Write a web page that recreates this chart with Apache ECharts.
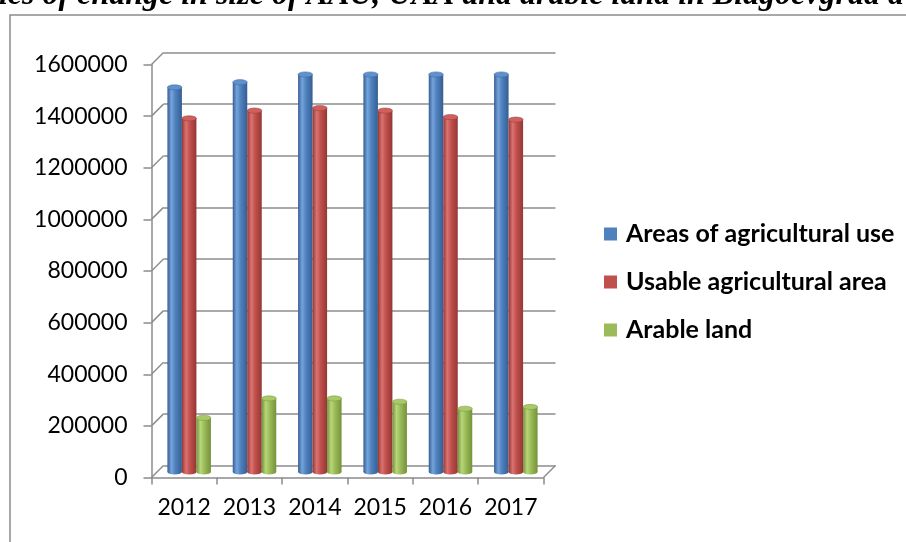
<!DOCTYPE html>
<html>
<head>
<meta charset="utf-8">
<script src="https://cdn.jsdelivr.net/npm/echarts@6/dist/echarts.min.js"></script>
<style>
  html, body { margin: 0; padding: 0; background: #fff; }
  #chart { width: 906px; height: 542px; }
</style>
</head>
<body>
<div id="chart"></div>
<script>
// Land use in Blagoevgrad district, 2012-2017
const years = ['2012', '2013', '2014', '2015', '2016', '2017'];
const seriesNames = ['Areas of agricultural use', 'Usable agricultural area', 'Arable land'];
const areasAgriUse = [1490000, 1510000, 1540000, 1540000, 1540000, 1540000];
const usableAgriArea = [1370000, 1400000, 1410000, 1400000, 1375000, 1365000];
const arableLand = [210000, 285000, 285000, 272000, 245000, 252000];
const valueTicks = [0, 200000, 400000, 600000, 800000, 1000000, 1200000, 1400000, 1600000];
const titleText = 'ics of change in size of AAU, UAA and arable land in Blagoevgrad d';

const palette = [
  { base: '#4f81bd', dark: '#355e92', light: '#75a3dc', top: '#5f91cf', edge: '#3b679c' },
  { base: '#c0504d', dark: '#943734', light: '#db7370', top: '#cf605d', edge: '#9c3e3b' },
  { base: '#9bbb59', dark: '#74923a', light: '#b8d67a', top: '#a9c868', edge: '#7c9a41' }
];

// depth offsets: front plane -> mid plane (bars) -> back wall
const GRID_LEFT = 151.5, GRID_TOP = 64.5, GRID_W = 392, GRID_H = 413;
const DEPTH_X = 12, DEPTH_Y = -12;
const MID_X = 5, MID_Y = -5.5;
const gridColor = '#8c8c8c';
const labelFont = 'Lato';

function cylinderRenderer(sIdx) {
  const c = palette[sIdx];
  return function (params, api) {
    const cat = api.value(0);
    const val = api.value(1);
    const top = api.coord([cat, val]);
    const base = api.coord([cat, 0]);
    const band = api.size([1, 0])[0];
    const w = band * 0.222;
    const cx = top[0] + (sIdx - 1) * w;
    const x0 = cx - w / 2;
    const ry = w * 0.18;
    const grad = new echarts.graphic.LinearGradient(0, 0, 1, 0, [
      { offset: 0, color: c.dark },
      { offset: 0.28, color: c.light },
      { offset: 0.55, color: c.base },
      { offset: 1, color: c.dark }
    ]);
    return {
      type: 'group',
      children: [
        {
          type: 'circle',
          x: cx, y: base[1], scaleY: ry / (w / 2),
          shape: { cx: 0, cy: 0, r: w / 2 },
          style: { fill: grad }
        },
        {
          type: 'rect',
          shape: { x: x0, y: top[1], width: w, height: base[1] - top[1] },
          style: { fill: grad }
        },
        {
          type: 'circle',
          x: cx, y: top[1], scaleY: ry / (w / 2),
          shape: { cx: 0, cy: 0, r: w / 2 },
          style: { fill: c.top, stroke: c.edge, lineWidth: 0.8 }
        }
      ]
    };
  };
}

const chart = echarts.init(document.getElementById('chart'), null, { renderer: 'canvas' });

const option = {
  animation: false,
  backgroundColor: '#ffffff',
  graphic: [
    {
      type: 'rect',
      silent: true,
      shape: { x: 10, y: 15, width: 1000, height: 600 },
      style: { fill: 'none', stroke: '#8c8c8c', lineWidth: 1.5 },
      z: -10
    },
    {
      type: 'text',
      silent: true,
      x: -1, y: -4.5,
      style: {
        text: titleText,
        font: 'italic bold 32px "Liberation Serif", "Times New Roman", serif',
        fill: '#000',
        textAlign: 'left',
        textVerticalAlign: 'middle'
      }
    }
  ],
  legend: {
    orient: 'vertical',
    left: 599,
    top: 216,
    icon: 'rect',
    itemWidth: 13,
    itemHeight: 13,
    itemGap: 22,
    selectedMode: false,
    data: seriesNames,
    textStyle: {
      fontFamily: labelFont,
      fontWeight: 'bold',
      fontSize: 25,
      lineHeight: 26,
      color: '#000',
      padding: [0, 0, 0, 4]
    }
  },
  grid: [
    { left: GRID_LEFT, top: GRID_TOP, width: GRID_W, height: GRID_H },
    { left: GRID_LEFT + MID_X, top: GRID_TOP + MID_Y, width: GRID_W, height: GRID_H },
    { left: GRID_LEFT + DEPTH_X, top: GRID_TOP + DEPTH_Y, width: GRID_W, height: GRID_H }
  ],
  xAxis: [
    {
      gridIndex: 0, type: 'category', data: years,
      axisLine: { show: true, lineStyle: { color: gridColor, width: 1.5 } },
      axisTick: { show: true, length: 7, lineStyle: { color: gridColor, width: 1.5 } },
      axisLabel: { color: '#000', fontFamily: labelFont, fontSize: 23, margin: 19, interval: 0 },
      z: 5
    },
    { gridIndex: 1, type: 'category', data: years, show: false },
    { gridIndex: 2, type: 'category', data: years, show: false }
  ],
  yAxis: [
    {
      gridIndex: 0, type: 'value', min: 0, max: 1600000, interval: 200000,
      axisLine: { show: true, lineStyle: { color: gridColor, width: 1.5 } },
      axisTick: { show: true, length: 8, lineStyle: { color: gridColor, width: 1.5 } },
      axisLabel: {
        color: '#000', fontFamily: labelFont, fontSize: 23, margin: 24,
        formatter: v => String(v)
      },
      splitLine: { show: false },
      z: 5
    },
    {
      gridIndex: 1, type: 'value', min: 0, max: 1600000, interval: 200000,
      show: false, splitLine: { show: false }
    },
    {
      gridIndex: 2, type: 'value', min: 0, max: 1600000, interval: 200000,
      axisLine: { show: false }, axisTick: { show: false }, axisLabel: { show: false },
      splitLine: { show: true, lineStyle: { color: gridColor, width: 1.5 } }
    }
  ],
  series: [
    // side wall and floor edges joining the front plane to the back wall
    {
      type: 'custom',
      name: 'walls',
      xAxisIndex: 0, yAxisIndex: 0,
      silent: true,
      z: 1,
      data: valueTicks.map(v => [0, v]),
      renderItem: function (params, api) {
        const v = api.value(1);
        const p = api.coord([0, v]);
        const cs = params.coordSys;
        const children = [{
          type: 'line',
          shape: { x1: cs.x, y1: p[1], x2: cs.x + DEPTH_X, y2: p[1] + DEPTH_Y },
          style: { stroke: gridColor, lineWidth: 1.5 }
        }];
        if (v === 0) {
          children.push({
            type: 'line',
            shape: { x1: cs.x + cs.width, y1: p[1], x2: cs.x + cs.width + DEPTH_X, y2: p[1] + DEPTH_Y },
            style: { stroke: gridColor, lineWidth: 1.5 }
          });
        }
        return { type: 'group', children: children };
      }
    },
    {
      type: 'custom', name: seriesNames[0], xAxisIndex: 1, yAxisIndex: 1, z: 3,
      itemStyle: { color: palette[0].base },
      encode: { x: 0, y: 1 },
      data: areasAgriUse.map((v, i) => [i, v]),
      renderItem: cylinderRenderer(0)
    },
    {
      type: 'custom', name: seriesNames[1], xAxisIndex: 1, yAxisIndex: 1, z: 3,
      itemStyle: { color: palette[1].base },
      encode: { x: 0, y: 1 },
      data: usableAgriArea.map((v, i) => [i, v]),
      renderItem: cylinderRenderer(1)
    },
    {
      type: 'custom', name: seriesNames[2], xAxisIndex: 1, yAxisIndex: 1, z: 3,
      itemStyle: { color: palette[2].base },
      encode: { x: 0, y: 1 },
      data: arableLand.map((v, i) => [i, v]),
      renderItem: cylinderRenderer(2)
    }
  ]
};

chart.setOption(option);
</script>
</body>
</html>
